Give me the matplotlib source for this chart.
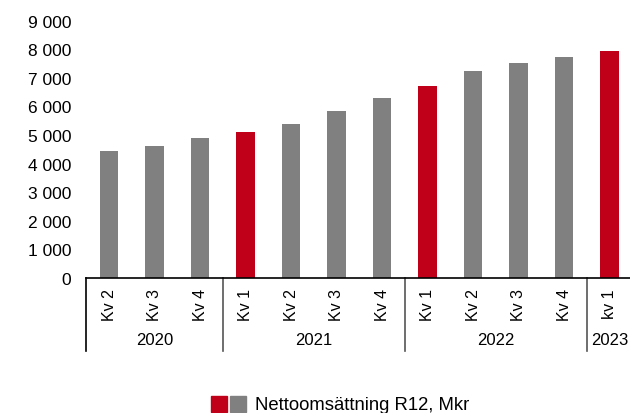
import matplotlib
matplotlib.use("Agg")
import matplotlib.pyplot as plt
from matplotlib.patches import Rectangle
from matplotlib.ticker import FuncFormatter

quarters = ["Kv 2", "Kv 3", "Kv 4", "Kv 1", "Kv 2", "Kv 3", "Kv 4",
            "Kv 1", "Kv 2", "Kv 3", "Kv 4", "kv 1"]
years = ["2020", "2021", "2022", "2023"]
year_counts = [3, 4, 4, 1]
values = [4450, 4630, 4890, 5120, 5400, 5850, 6290, 6700, 7240, 7510, 7710, 7950]
is_q1 = [False, False, False, True, False, False, False, True, False, False, False, True]
legend_label = "Nettoomsättning R12, Mkr"
y_ticks = [0, 1000, 2000, 3000, 4000, 5000, 6000, 7000, 8000, 9000]

RED = "#C00018"
GREY = "#808080"

plt.rcParams["font.family"] = ["Liberation Sans", "DejaVu Sans"]

fig = plt.figure(figsize=(6.3, 4.14), dpi=100)
ax = fig.add_axes([86.3 / 630, 135 / 414, 546 / 630, 257.4 / 414])

x = list(range(len(values)))
colors = [RED if q else GREY for q in is_q1]
ax.bar(x, values, width=0.41, color=colors, zorder=2)

ax.set_xlim(-0.5, len(values) - 0.5)
ax.set_ylim(0, 9000)
ax.set_yticks(y_ticks)
ax.yaxis.set_major_formatter(FuncFormatter(lambda v, p: f"{int(v):,}".replace(",", " ")))
ax.tick_params(axis="y", length=0, labelsize=12.5, pad=11)
ax.set_xticks([])
for s in ["top", "right", "left"]:
    ax.spines[s].set_visible(False)
ax.spines["bottom"].set_color("black")
ax.spines["bottom"].set_linewidth(1.2)

# quarter labels
for xi, q in zip(x, quarters):
    ax.text(xi, -0.04, q, transform=ax.get_xaxis_transform(), rotation=90,
            ha="center", va="top", fontsize=11.5, clip_on=False)

# group separators and year labels
trans = ax.get_xaxis_transform()
start = 0
bounds = [start]
for c in year_counts:
    start += c
    bounds.append(start)
for i, b in enumerate(bounds[:-1]):
    xb = b - 0.5
    col = "black" if i == 0 else "#555555"
    ax.plot([xb, xb], [0, -0.285], transform=trans, color=col, lw=1.2, clip_on=False)
for i, (yr, c) in enumerate(zip(years, year_counts)):
    mid = (bounds[i] + bounds[i + 1] - 1) / 2
    ax.text(mid, -0.24, yr, transform=trans, ha="center", va="center", fontsize=12, clip_on=False)

# legend
fig.patches.append(Rectangle((211 / 630, 1 - 413 / 414), 16 / 630, 16 / 414,
                             transform=fig.transFigure, color=RED))
fig.patches.append(Rectangle((230 / 630, 1 - 413 / 414), 16 / 630, 16 / 414,
                             transform=fig.transFigure, color=GREY))
fig.text(255 / 630, 1 - 406 / 414, legend_label, ha="left", va="center", fontsize=13.3)

fig.savefig("out.png", dpi=100)
